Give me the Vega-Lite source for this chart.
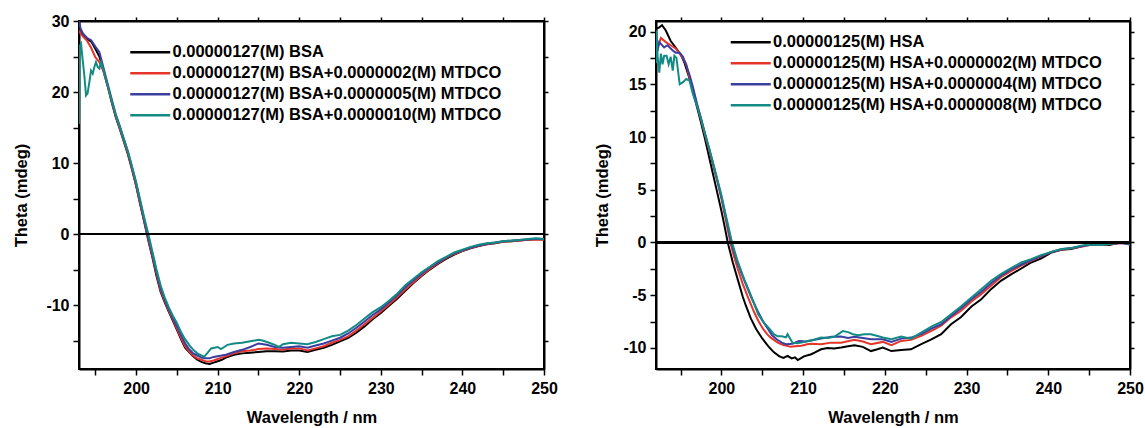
{
  "$schema": "https://vega.github.io/schema/vega-lite/v6.json",
  "padding": {"left": 12, "top": 12, "right": 5, "bottom": 5},
  "bounds": "flush",
  "spacing": 112,
  "resolve": {"scale": {"color": "independent"}, "legend": {"color": "independent"}},
  "config": {
    "font": "Liberation Sans",
    "view": {"stroke": "#000000", "strokeWidth": 2},
    "axis": {"domain": true, "domainColor": "#000000", "domainWidth": 2, "grid": false, "tickColor": "#000000", "tickWidth": 1.5, "tickSize": 6,
      "labelFont": "Liberation Sans", "labelFontSize": 16, "labelFontWeight": "bold", "labelColor": "#000000",
      "labelFlush": false, "labelOverlap": false,
      "titleFont": "Liberation Sans", "titleFontSize": 16.5, "titleFontWeight": "bold", "titleColor": "#000000"},
    "legend": {"orient": "none", "title": null, "symbolType": "M-4,0H4", "symbolSize": 100, "symbolStrokeWidth": 2.5,
      "labelFont": "Liberation Sans", "labelFontSize": 16.5, "labelFontWeight": "bold", "labelColor": "#000000",
      "labelLimit": 0, "rowPadding": 4, "labelOffset": 14, "padding": 0}
  },
  "datasets": {
    "bsa": [
      {"s":"a","x":193,"y":29.6},{"s":"a","x":193.2,"y":28.6},{"s":"a","x":193.5,"y":28.0},{"s":"a","x":194,"y":27.5},{"s":"a","x":194.5,"y":27.1},{"s":"a","x":195,"y":26.1},{"s":"a","x":195.5,"y":25.0},{"s":"a","x":196,"y":23.0},{"s":"a","x":196.5,"y":20.9},{"s":"a","x":197,"y":18.6},{"s":"a","x":197.5,"y":16.5},{"s":"a","x":198,"y":14.8},{"s":"a","x":198.5,"y":13.0},{"s":"a","x":199,"y":11.2},{"s":"a","x":199.5,"y":9.1},{"s":"a","x":200,"y":6.8},{"s":"a","x":200.5,"y":4.2},{"s":"a","x":201,"y":1.7},{"s":"a","x":201.5,"y":-0.9},{"s":"a","x":202,"y":-3.3},{"s":"a","x":202.5,"y":-5.9},{"s":"a","x":203,"y":-8.1},{"s":"a","x":203.5,"y":-9.6},{"s":"a","x":204,"y":-10.9},{"s":"a","x":204.5,"y":-12.2},{"s":"a","x":205,"y":-13.5},{"s":"a","x":205.5,"y":-14.8},{"s":"a","x":206,"y":-16.0},{"s":"a","x":206.5,"y":-16.6},{"s":"a","x":207,"y":-17.2},{"s":"a","x":207.5,"y":-17.7},{"s":"a","x":208,"y":-18.0},{"s":"a","x":208.5,"y":-18.2},{"s":"a","x":209,"y":-18.3},{"s":"a","x":209.5,"y":-18.1},{"s":"a","x":210,"y":-17.9},{"s":"a","x":210.5,"y":-17.7},{"s":"a","x":211,"y":-17.4},{"s":"a","x":212,"y":-17.0},{"s":"a","x":213,"y":-16.8},{"s":"a","x":214,"y":-16.7},{"s":"a","x":215,"y":-16.6},{"s":"a","x":216,"y":-16.5},{"s":"a","x":217,"y":-16.5},{"s":"a","x":218,"y":-16.55},{"s":"a","x":219,"y":-16.4},{"s":"a","x":220,"y":-16.4},{"s":"a","x":221,"y":-16.6},{"s":"a","x":222,"y":-16.3},{"s":"a","x":223,"y":-16.0},{"s":"a","x":224,"y":-15.6},{"s":"a","x":225,"y":-15.1},{"s":"a","x":226,"y":-14.6},{"s":"a","x":227,"y":-13.9},{"s":"a","x":228,"y":-13.0},{"s":"a","x":229,"y":-12.0},{"s":"a","x":230,"y":-11.1},{"s":"a","x":231,"y":-10.1},{"s":"a","x":232,"y":-9.1},{"s":"a","x":233,"y":-8.0},{"s":"a","x":234,"y":-6.9},{"s":"a","x":235,"y":-5.9},{"s":"a","x":236,"y":-5.0},{"s":"a","x":237,"y":-4.2},{"s":"a","x":238,"y":-3.5},{"s":"a","x":239,"y":-2.9},{"s":"a","x":240,"y":-2.4},{"s":"a","x":241,"y":-2.0},{"s":"a","x":242,"y":-1.7},{"s":"a","x":243,"y":-1.45},{"s":"a","x":244,"y":-1.3},{"s":"a","x":245,"y":-1.1},{"s":"a","x":246,"y":-1.0},{"s":"a","x":247,"y":-0.9},{"s":"a","x":248,"y":-0.8},{"s":"a","x":249,"y":-0.7},{"s":"a","x":250,"y":-0.75},
      {"s":"b","x":193,"y":28.7},{"s":"b","x":193.2,"y":28.2},{"s":"b","x":193.5,"y":27.8},{"s":"b","x":194,"y":27.2},{"s":"b","x":194.5,"y":26.2},{"s":"b","x":195,"y":24.9},{"s":"b","x":195.5,"y":24.2},{"s":"b","x":196,"y":22.9},{"s":"b","x":196.5,"y":20.9},{"s":"b","x":197,"y":18.7},{"s":"b","x":197.5,"y":16.6},{"s":"b","x":198,"y":14.9},{"s":"b","x":198.5,"y":13.1},{"s":"b","x":199,"y":11.3},{"s":"b","x":199.5,"y":9.2},{"s":"b","x":200,"y":6.9},{"s":"b","x":200.5,"y":4.3},{"s":"b","x":201,"y":1.8},{"s":"b","x":201.5,"y":-0.8},{"s":"b","x":202,"y":-3.1},{"s":"b","x":202.5,"y":-5.6},{"s":"b","x":203,"y":-7.9},{"s":"b","x":203.5,"y":-9.4},{"s":"b","x":204,"y":-10.8},{"s":"b","x":204.5,"y":-12.0},{"s":"b","x":205,"y":-13.3},{"s":"b","x":205.5,"y":-14.6},{"s":"b","x":206,"y":-15.8},{"s":"b","x":206.5,"y":-16.5},{"s":"b","x":207,"y":-17.1},{"s":"b","x":207.5,"y":-17.5},{"s":"b","x":208,"y":-17.7},{"s":"b","x":208.5,"y":-17.9},{"s":"b","x":209,"y":-17.95},{"s":"b","x":209.5,"y":-17.8},{"s":"b","x":210,"y":-17.6},{"s":"b","x":210.5,"y":-17.4},{"s":"b","x":211,"y":-17.2},{"s":"b","x":212,"y":-16.8},{"s":"b","x":213,"y":-16.5},{"s":"b","x":214,"y":-16.4},{"s":"b","x":215,"y":-16.2},{"s":"b","x":216,"y":-16.1},{"s":"b","x":217,"y":-16.2},{"s":"b","x":218,"y":-16.3},{"s":"b","x":219,"y":-16.1},{"s":"b","x":220,"y":-16.1},{"s":"b","x":221,"y":-16.4},{"s":"b","x":222,"y":-16.1},{"s":"b","x":223,"y":-15.8},{"s":"b","x":224,"y":-15.3},{"s":"b","x":225,"y":-14.9},{"s":"b","x":226,"y":-14.4},{"s":"b","x":227,"y":-13.6},{"s":"b","x":228,"y":-12.7},{"s":"b","x":229,"y":-11.8},{"s":"b","x":230,"y":-10.9},{"s":"b","x":231,"y":-9.9},{"s":"b","x":232,"y":-8.9},{"s":"b","x":233,"y":-7.8},{"s":"b","x":234,"y":-6.8},{"s":"b","x":235,"y":-5.8},{"s":"b","x":236,"y":-4.9},{"s":"b","x":237,"y":-4.1},{"s":"b","x":238,"y":-3.4},{"s":"b","x":239,"y":-2.8},{"s":"b","x":240,"y":-2.35},{"s":"b","x":241,"y":-1.95},{"s":"b","x":242,"y":-1.65},{"s":"b","x":243,"y":-1.4},{"s":"b","x":244,"y":-1.25},{"s":"b","x":245,"y":-1.05},{"s":"b","x":246,"y":-1.0},{"s":"b","x":247,"y":-0.9},{"s":"b","x":248,"y":-0.8},{"s":"b","x":249,"y":-0.75},{"s":"b","x":250,"y":-0.8},
      {"s":"c","x":193,"y":30.0},{"s":"c","x":193.2,"y":28.9},{"s":"c","x":193.5,"y":28.2},{"s":"c","x":194,"y":27.6},{"s":"c","x":194.5,"y":27.3},{"s":"c","x":195,"y":26.4},{"s":"c","x":195.5,"y":25.6},{"s":"c","x":196,"y":23.4},{"s":"c","x":196.5,"y":21.2},{"s":"c","x":197,"y":19.0},{"s":"c","x":197.5,"y":16.9},{"s":"c","x":198,"y":15.2},{"s":"c","x":198.5,"y":13.4},{"s":"c","x":199,"y":11.6},{"s":"c","x":199.5,"y":9.4},{"s":"c","x":200,"y":7.2},{"s":"c","x":200.5,"y":4.6},{"s":"c","x":201,"y":2.0},{"s":"c","x":201.5,"y":-0.5},{"s":"c","x":202,"y":-2.8},{"s":"c","x":202.5,"y":-5.3},{"s":"c","x":203,"y":-7.6},{"s":"c","x":203.5,"y":-9.2},{"s":"c","x":204,"y":-10.6},{"s":"c","x":204.5,"y":-11.8},{"s":"c","x":205,"y":-13.0},{"s":"c","x":205.5,"y":-14.2},{"s":"c","x":206,"y":-15.4},{"s":"c","x":206.5,"y":-16.2},{"s":"c","x":207,"y":-16.8},{"s":"c","x":207.5,"y":-17.1},{"s":"c","x":208,"y":-17.4},{"s":"c","x":208.5,"y":-17.5},{"s":"c","x":209,"y":-17.5},{"s":"c","x":209.5,"y":-17.3},{"s":"c","x":210,"y":-17.2},{"s":"c","x":210.5,"y":-17.1},{"s":"c","x":211,"y":-17.0},{"s":"c","x":212,"y":-16.6},{"s":"c","x":213,"y":-16.3},{"s":"c","x":214,"y":-15.9},{"s":"c","x":215,"y":-15.4},{"s":"c","x":216,"y":-15.6},{"s":"c","x":217,"y":-15.9},{"s":"c","x":218,"y":-16.0},{"s":"c","x":219,"y":-15.9},{"s":"c","x":220,"y":-15.8},{"s":"c","x":221,"y":-16.0},{"s":"c","x":222,"y":-15.7},{"s":"c","x":223,"y":-15.4},{"s":"c","x":224,"y":-15.0},{"s":"c","x":225,"y":-14.6},{"s":"c","x":226,"y":-14.0},{"s":"c","x":227,"y":-13.2},{"s":"c","x":228,"y":-12.3},{"s":"c","x":229,"y":-11.4},{"s":"c","x":230,"y":-10.6},{"s":"c","x":231,"y":-9.6},{"s":"c","x":232,"y":-8.6},{"s":"c","x":233,"y":-7.5},{"s":"c","x":234,"y":-6.5},{"s":"c","x":235,"y":-5.6},{"s":"c","x":236,"y":-4.7},{"s":"c","x":237,"y":-4.0},{"s":"c","x":238,"y":-3.3},{"s":"c","x":239,"y":-2.7},{"s":"c","x":240,"y":-2.3},{"s":"c","x":241,"y":-1.9},{"s":"c","x":242,"y":-1.6},{"s":"c","x":243,"y":-1.35},{"s":"c","x":244,"y":-1.2},{"s":"c","x":245,"y":-1.0},{"s":"c","x":246,"y":-0.95},{"s":"c","x":247,"y":-0.85},{"s":"c","x":248,"y":-0.75},{"s":"c","x":249,"y":-0.65},{"s":"c","x":250,"y":-0.7},
      {"s":"d","x":193,"y":15.5},{"s":"d","x":193.1,"y":26.5},{"s":"d","x":193.25,"y":26.8},{"s":"d","x":193.45,"y":24.5},{"s":"d","x":193.65,"y":22.4},{"s":"d","x":193.86,"y":19.5},{"s":"d","x":194.05,"y":19.8},{"s":"d","x":194.27,"y":21.4},{"s":"d","x":194.47,"y":23.0},{"s":"d","x":194.68,"y":22.6},{"s":"d","x":194.9,"y":23.6},{"s":"d","x":195.08,"y":24.2},{"s":"d","x":195.3,"y":23.5},{"s":"d","x":195.5,"y":23.3},{"s":"d","x":195.7,"y":24.2},{"s":"d","x":196,"y":23.1},{"s":"d","x":196.5,"y":21.0},{"s":"d","x":197,"y":18.8},{"s":"d","x":197.5,"y":16.8},{"s":"d","x":198,"y":15.1},{"s":"d","x":198.5,"y":13.3},{"s":"d","x":199,"y":11.6},{"s":"d","x":199.5,"y":9.5},{"s":"d","x":200,"y":7.3},{"s":"d","x":200.5,"y":4.8},{"s":"d","x":201,"y":2.3},{"s":"d","x":201.5,"y":0.0},{"s":"d","x":202,"y":-2.5},{"s":"d","x":202.5,"y":-5.0},{"s":"d","x":203,"y":-7.2},{"s":"d","x":203.5,"y":-8.9},{"s":"d","x":204,"y":-10.3},{"s":"d","x":204.5,"y":-11.5},{"s":"d","x":205,"y":-12.5},{"s":"d","x":205.5,"y":-13.8},{"s":"d","x":206,"y":-14.8},{"s":"d","x":206.5,"y":-15.6},{"s":"d","x":207,"y":-16.3},{"s":"d","x":207.5,"y":-16.8},{"s":"d","x":208,"y":-17.1},{"s":"d","x":208.35,"y":-17.25},{"s":"d","x":208.7,"y":-16.8},{"s":"d","x":209.2,"y":-16.1},{"s":"d","x":209.6,"y":-16.0},{"s":"d","x":210,"y":-15.9},{"s":"d","x":210.4,"y":-16.2},{"s":"d","x":210.8,"y":-15.9},{"s":"d","x":211.2,"y":-15.6},{"s":"d","x":212,"y":-15.4},{"s":"d","x":213,"y":-15.3},{"s":"d","x":214,"y":-15.1},{"s":"d","x":215,"y":-14.9},{"s":"d","x":215.5,"y":-15.0},{"s":"d","x":216.3,"y":-15.3},{"s":"d","x":217,"y":-15.6},{"s":"d","x":217.5,"y":-15.9},{"s":"d","x":218,"y":-15.5},{"s":"d","x":219,"y":-15.3},{"s":"d","x":220,"y":-15.4},{"s":"d","x":221,"y":-15.5},{"s":"d","x":222,"y":-15.2},{"s":"d","x":223,"y":-14.8},{"s":"d","x":224,"y":-14.4},{"s":"d","x":225,"y":-14.2},{"s":"d","x":226,"y":-13.6},{"s":"d","x":227,"y":-12.8},{"s":"d","x":228,"y":-11.9},{"s":"d","x":229,"y":-11.0},{"s":"d","x":230,"y":-10.3},{"s":"d","x":231,"y":-9.4},{"s":"d","x":232,"y":-8.4},{"s":"d","x":233,"y":-7.2},{"s":"d","x":234,"y":-6.3},{"s":"d","x":235,"y":-5.4},{"s":"d","x":236,"y":-4.6},{"s":"d","x":237,"y":-3.8},{"s":"d","x":238,"y":-3.2},{"s":"d","x":239,"y":-2.6},{"s":"d","x":240,"y":-2.2},{"s":"d","x":241,"y":-1.8},{"s":"d","x":242,"y":-1.5},{"s":"d","x":243,"y":-1.3},{"s":"d","x":244,"y":-1.2},{"s":"d","x":245,"y":-1.0},{"s":"d","x":246,"y":-0.9},{"s":"d","x":247,"y":-0.85},{"s":"d","x":248,"y":-0.7},{"s":"d","x":249,"y":-0.6},{"s":"d","x":250,"y":-0.7}
    ],
    "hsa": [
      {"s":"a","x":192,"y":20.26},{"s":"a","x":192.4,"y":20.4},{"s":"a","x":192.74,"y":20.6},{"s":"a","x":193.2,"y":20.1},{"s":"a","x":193.8,"y":19.1},{"s":"a","x":194.2,"y":18.7},{"s":"a","x":194.66,"y":18.2},{"s":"a","x":195.1,"y":17.7},{"s":"a","x":195.5,"y":17.0},{"s":"a","x":196,"y":15.8},{"s":"a","x":196.5,"y":14.4},{"s":"a","x":197,"y":12.9},{"s":"a","x":197.5,"y":11.4},{"s":"a","x":198,"y":9.8},{"s":"a","x":198.5,"y":8.1},{"s":"a","x":199,"y":6.4},{"s":"a","x":199.5,"y":4.7},{"s":"a","x":200,"y":3.0},{"s":"a","x":200.4,"y":1.5},{"s":"a","x":200.78,"y":0},{"s":"a","x":201.4,"y":-1.9},{"s":"a","x":202,"y":-3.5},{"s":"a","x":202.6,"y":-5.1},{"s":"a","x":203,"y":-6.0},{"s":"a","x":203.6,"y":-7.2},{"s":"a","x":204.25,"y":-8.2},{"s":"a","x":205,"y":-9.1},{"s":"a","x":205.7,"y":-9.8},{"s":"a","x":206.4,"y":-10.4},{"s":"a","x":207.1,"y":-10.8},{"s":"a","x":207.6,"y":-10.95},{"s":"a","x":208.1,"y":-10.75},{"s":"a","x":208.6,"y":-11.0},{"s":"a","x":209,"y":-10.9},{"s":"a","x":209.35,"y":-11.15},{"s":"a","x":209.7,"y":-11.0},{"s":"a","x":210.1,"y":-10.8},{"s":"a","x":211,"y":-10.6},{"s":"a","x":211.4,"y":-10.45},{"s":"a","x":212.2,"y":-10.13},{"s":"a","x":213,"y":-10.0},{"s":"a","x":213.8,"y":-10.05},{"s":"a","x":214.65,"y":-9.97},{"s":"a","x":215.5,"y":-9.85},{"s":"a","x":216.3,"y":-9.75},{"s":"a","x":217.3,"y":-9.9},{"s":"a","x":218.3,"y":-10.3},{"s":"a","x":219,"y":-10.15},{"s":"a","x":219.75,"y":-9.97},{"s":"a","x":220.8,"y":-10.3},{"s":"a","x":221.4,"y":-10.25},{"s":"a","x":222,"y":-10.2},{"s":"a","x":223.2,"y":-10.13},{"s":"a","x":224.45,"y":-9.65},{"s":"a","x":225.7,"y":-9.2},{"s":"a","x":226.9,"y":-8.7},{"s":"a","x":228.1,"y":-7.76},{"s":"a","x":229.3,"y":-7.1},{"s":"a","x":230.6,"y":-6.08},{"s":"a","x":231.8,"y":-5.38},{"s":"a","x":233,"y":-4.43},{"s":"a","x":234.2,"y":-3.64},{"s":"a","x":235.5,"y":-3.0},{"s":"a","x":236.7,"y":-2.47},{"s":"a","x":237.9,"y":-1.9},{"s":"a","x":239.1,"y":-1.52},{"s":"a","x":240.4,"y":-0.95},{"s":"a","x":241.6,"y":-0.7},{"s":"a","x":242.8,"y":-0.63},{"s":"a","x":244,"y":-0.38},{"s":"a","x":245.1,"y":-0.16},{"s":"a","x":246.5,"y":-0.2},{"s":"a","x":247.5,"y":-0.25},{"s":"a","x":248.5,"y":-0.05},{"s":"a","x":249.2,"y":0.0},{"s":"a","x":250,"y":-0.15},
      {"s":"b","x":192,"y":18.3},{"s":"b","x":192.2,"y":18.5},{"s":"b","x":192.6,"y":19.4},{"s":"b","x":193.2,"y":19.0},{"s":"b","x":193.8,"y":18.7},{"s":"b","x":194.4,"y":18.4},{"s":"b","x":195.1,"y":17.7},{"s":"b","x":195.7,"y":16.9},{"s":"b","x":196,"y":15.9},{"s":"b","x":196.5,"y":14.6},{"s":"b","x":197,"y":13.1},{"s":"b","x":197.5,"y":11.7},{"s":"b","x":198,"y":10.2},{"s":"b","x":198.5,"y":8.8},{"s":"b","x":199,"y":7.3},{"s":"b","x":199.5,"y":5.8},{"s":"b","x":200,"y":4.2},{"s":"b","x":200.5,"y":2.3},{"s":"b","x":201.1,"y":0},{"s":"b","x":201.5,"y":-1.2},{"s":"b","x":202,"y":-2.5},{"s":"b","x":202.6,"y":-3.9},{"s":"b","x":203.2,"y":-5.1},{"s":"b","x":204,"y":-6.6},{"s":"b","x":204.5,"y":-7.4},{"s":"b","x":205.1,"y":-8.2},{"s":"b","x":205.6,"y":-8.7},{"s":"b","x":206,"y":-9.0},{"s":"b","x":206.9,"y":-9.5},{"s":"b","x":207.5,"y":-9.7},{"s":"b","x":208,"y":-9.8},{"s":"b","x":208.5,"y":-9.9},{"s":"b","x":209,"y":-9.85},{"s":"b","x":209.8,"y":-9.8},{"s":"b","x":210.5,"y":-9.65},{"s":"b","x":211,"y":-9.6},{"s":"b","x":212.2,"y":-9.65},{"s":"b","x":213.4,"y":-9.5},{"s":"b","x":214.65,"y":-9.5},{"s":"b","x":216.3,"y":-9.24},{"s":"b","x":217.3,"y":-9.4},{"s":"b","x":218.3,"y":-9.65},{"s":"b","x":219.75,"y":-9.43},{"s":"b","x":220.8,"y":-9.75},{"s":"b","x":222,"y":-9.34},{"s":"b","x":223.2,"y":-9.24},{"s":"b","x":224.45,"y":-8.86},{"s":"b","x":225.7,"y":-8.39},{"s":"b","x":226.9,"y":-7.9},{"s":"b","x":228.1,"y":-7.1},{"s":"b","x":229.3,"y":-6.5},{"s":"b","x":230.6,"y":-5.6},{"s":"b","x":231.8,"y":-4.9},{"s":"b","x":233,"y":-4.1},{"s":"b","x":234.2,"y":-3.3},{"s":"b","x":235.5,"y":-2.7},{"s":"b","x":236.7,"y":-2.2},{"s":"b","x":237.9,"y":-1.74},{"s":"b","x":239.1,"y":-1.33},{"s":"b","x":240.4,"y":-0.89},{"s":"b","x":241.6,"y":-0.7},{"s":"b","x":242.8,"y":-0.55},{"s":"b","x":244,"y":-0.4},{"s":"b","x":245.1,"y":-0.25},{"s":"b","x":246.5,"y":-0.2},{"s":"b","x":248,"y":-0.15},{"s":"b","x":249,"y":-0.05},{"s":"b","x":250,"y":-0.2},
      {"s":"c","x":192,"y":17.8},{"s":"c","x":192.2,"y":18.2},{"s":"c","x":192.4,"y":19.0},{"s":"c","x":193,"y":18.5},{"s":"c","x":193.4,"y":18.7},{"s":"c","x":194.05,"y":18.2},{"s":"c","x":194.4,"y":18.0},{"s":"c","x":194.9,"y":18.0},{"s":"c","x":195.3,"y":17.6},{"s":"c","x":195.7,"y":16.8},{"s":"c","x":196.1,"y":15.9},{"s":"c","x":196.5,"y":14.8},{"s":"c","x":197,"y":13.2},{"s":"c","x":197.5,"y":11.8},{"s":"c","x":198,"y":10.3},{"s":"c","x":198.5,"y":8.9},{"s":"c","x":199,"y":7.4},{"s":"c","x":199.5,"y":5.9},{"s":"c","x":200,"y":4.3},{"s":"c","x":200.6,"y":2.2},{"s":"c","x":201.2,"y":0},{"s":"c","x":202,"y":-2.0},{"s":"c","x":202.8,"y":-3.6},{"s":"c","x":203.6,"y":-5.1},{"s":"c","x":204.5,"y":-6.6},{"s":"c","x":205.1,"y":-7.5},{"s":"c","x":205.7,"y":-8.2},{"s":"c","x":206.2,"y":-8.8},{"s":"c","x":206.8,"y":-9.2},{"s":"c","x":207.4,"y":-9.5},{"s":"c","x":207.9,"y":-9.65},{"s":"c","x":208.7,"y":-9.6},{"s":"c","x":209.5,"y":-9.35},{"s":"c","x":210.3,"y":-9.4},{"s":"c","x":211,"y":-9.3},{"s":"c","x":212.2,"y":-9.1},{"s":"c","x":213.5,"y":-8.95},{"s":"c","x":214.65,"y":-8.93},{"s":"c","x":215.5,"y":-9.05},{"s":"c","x":216.3,"y":-8.95},{"s":"c","x":217.3,"y":-9.05},{"s":"c","x":218.3,"y":-9.18},{"s":"c","x":219.75,"y":-9.18},{"s":"c","x":220.8,"y":-9.43},{"s":"c","x":222,"y":-9.12},{"s":"c","x":223.2,"y":-9.02},{"s":"c","x":224.45,"y":-8.7},{"s":"c","x":225.7,"y":-8.17},{"s":"c","x":226.9,"y":-7.76},{"s":"c","x":228.1,"y":-6.97},{"s":"c","x":229.3,"y":-6.27},{"s":"c","x":230.6,"y":-5.38},{"s":"c","x":231.8,"y":-4.68},{"s":"c","x":233,"y":-3.86},{"s":"c","x":234.2,"y":-3.15},{"s":"c","x":235.5,"y":-2.53},{"s":"c","x":236.7,"y":-2.09},{"s":"c","x":238,"y":-1.65},{"s":"c","x":239.1,"y":-1.3},{"s":"c","x":240.4,"y":-0.9},{"s":"c","x":241.6,"y":-0.65},{"s":"c","x":243,"y":-0.5},{"s":"c","x":244,"y":-0.35},{"s":"c","x":245,"y":-0.25},{"s":"c","x":246.5,"y":-0.2},{"s":"c","x":248,"y":-0.1},{"s":"c","x":249,"y":-0.05},{"s":"c","x":250,"y":-0.2},
      {"s":"d","x":192,"y":17.0},{"s":"d","x":192.05,"y":20.1},{"s":"d","x":192.2,"y":17.6},{"s":"d","x":192.4,"y":16.1},{"s":"d","x":192.6,"y":17.9},{"s":"d","x":192.8,"y":16.9},{"s":"d","x":193.0,"y":17.7},{"s":"d","x":193.3,"y":17.7},{"s":"d","x":193.55,"y":16.9},{"s":"d","x":193.8,"y":17.6},{"s":"d","x":194.05,"y":16.3},{"s":"d","x":194.25,"y":17.7},{"s":"d","x":194.5,"y":17.5},{"s":"d","x":194.9,"y":15.0},{"s":"d","x":195.3,"y":15.2},{"s":"d","x":195.7,"y":15.5},{"s":"d","x":196.1,"y":15.35},{"s":"d","x":196.5,"y":14.1},{"s":"d","x":197,"y":13.0},{"s":"d","x":197.5,"y":11.7},{"s":"d","x":198,"y":10.3},{"s":"d","x":198.5,"y":8.9},{"s":"d","x":199,"y":7.5},{"s":"d","x":199.5,"y":6.0},{"s":"d","x":200,"y":4.5},{"s":"d","x":200.6,"y":2.4},{"s":"d","x":201.3,"y":0},{"s":"d","x":202,"y":-1.8},{"s":"d","x":202.8,"y":-3.5},{"s":"d","x":203.6,"y":-5.0},{"s":"d","x":204.5,"y":-6.8},{"s":"d","x":205.2,"y":-7.6},{"s":"d","x":205.9,"y":-8.2},{"s":"d","x":206.4,"y":-8.7},{"s":"d","x":206.9,"y":-8.9},{"s":"d","x":207.4,"y":-8.9},{"s":"d","x":207.9,"y":-9.0},{"s":"d","x":208.1,"y":-8.7},{"s":"d","x":208.4,"y":-9.1},{"s":"d","x":208.7,"y":-9.5},{"s":"d","x":209.3,"y":-9.55},{"s":"d","x":209.8,"y":-9.5},{"s":"d","x":210.6,"y":-9.35},{"s":"d","x":211.4,"y":-9.2},{"s":"d","x":212.2,"y":-9.02},{"s":"d","x":213,"y":-9.05},{"s":"d","x":213.8,"y":-8.95},{"s":"d","x":214.5,"y":-8.6},{"s":"d","x":214.85,"y":-8.4},{"s":"d","x":215.5,"y":-8.5},{"s":"d","x":216.1,"y":-8.7},{"s":"d","x":216.7,"y":-8.8},{"s":"d","x":217.5,"y":-8.7},{"s":"d","x":218.3,"y":-8.7},{"s":"d","x":219,"y":-8.85},{"s":"d","x":219.75,"y":-9.02},{"s":"d","x":220.8,"y":-9.18},{"s":"d","x":222,"y":-8.93},{"s":"d","x":223.2,"y":-9.12},{"s":"d","x":224.45,"y":-8.55},{"s":"d","x":225.7,"y":-7.98},{"s":"d","x":226.9,"y":-7.54},{"s":"d","x":228.1,"y":-6.8},{"s":"d","x":229.3,"y":-6.08},{"s":"d","x":230.6,"y":-5.23},{"s":"d","x":231.8,"y":-4.43},{"s":"d","x":233,"y":-3.64},{"s":"d","x":234.2,"y":-3.0},{"s":"d","x":235.5,"y":-2.4},{"s":"d","x":236.7,"y":-1.9},{"s":"d","x":237.9,"y":-1.58},{"s":"d","x":239.1,"y":-1.2},{"s":"d","x":240.4,"y":-0.89},{"s":"d","x":241.6,"y":-0.63},{"s":"d","x":242.8,"y":-0.55},{"s":"d","x":244,"y":-0.3},{"s":"d","x":245.1,"y":-0.2},{"s":"d","x":246.5,"y":-0.25},{"s":"d","x":248,"y":-0.1},{"s":"d","x":249,"y":0.05},{"s":"d","x":250,"y":-0.15}
    ]
  },
  "hconcat": [
    {
      "width": 465,
      "height": 348,
      "data": {"name": "bsa"},
      "resolve": {"axis": {"x": "independent", "y": "independent"}},
      "layer": [
        {
          "mark": {"type": "line", "strokeWidth": 2, "clip": true},
          "encoding": {
            "x": {"field": "x", "type": "quantitative", "title": "Wavelength / nm",
              "scale": {"domain": [193, 250], "nice": false, "zero": false},
              "axis": {"orient": "bottom", "values": [195,200,205,210,215,220,225,230,235,240,245,250],
                "labelExpr": "datum.value % 10 === 0 ? '' + datum.value : ''", "labelOverlap": false,
                "labelPadding": 5, "titleY": 48, "titleBaseline": "middle"}},
            "y": {"field": "y", "type": "quantitative", "title": "Theta (mdeg)",
              "scale": {"domain": [-19, 30], "nice": false, "zero": false},
              "axis": {"orient": "left", "values": [-15,-10,-5,0,5,10,15,20,25,30],
                "labelExpr": "datum.value % 10 === 0 ? '' + datum.value : ''", "labelOverlap": false,
                "labelPadding": 4, "titleX": -58, "titleBaseline": "middle"}},
            "color": {"field": "s", "type": "nominal",
              "scale": {"domain": ["a","b","c","d"], "range": ["#000000","#e5352b","#3a3f9f","#138a84"]},
              "legend": {"legendX": 63, "legendY": 23,
                "labelExpr": "datum.label === 'a' ? '0.00000127(M) BSA' : datum.label === 'b' ? '0.00000127(M) BSA+0.0000002(M) MTDCO' : datum.label === 'c' ? '0.00000127(M) BSA+0.0000005(M) MTDCO' : '0.00000127(M) BSA+0.0000010(M) MTDCO'"}}
          }
        },
        {
          "mark": {"type": "rule", "strokeWidth": 2, "color": "#000000"},
          "encoding": {"y": {"datum": 0, "type": "quantitative", "axis": null}}
        },
        {
          "mark": {"type": "line", "opacity": 0},
          "encoding": {
            "x": {"field": "x", "type": "quantitative",
              "axis": {"orient": "top", "values": [195,200,205,210,215,220,225,230,235,240,245,250], "labels": false, "tickSize": 4, "title": null}},
            "y": {"field": "y", "type": "quantitative",
              "axis": {"orient": "right", "values": [-15,-10,-5,0,5,10,15,20,25,30], "labels": false, "tickSize": 4, "title": null}},
            "detail": {"field": "s"}
          }
        }
      ]
    },
    {
      "width": 474,
      "height": 348,
      "data": {"name": "hsa"},
      "resolve": {"axis": {"x": "independent", "y": "independent"}},
      "layer": [
        {
          "mark": {"type": "line", "strokeWidth": 2, "clip": true},
          "encoding": {
            "x": {"field": "x", "type": "quantitative", "title": "Wavelength / nm",
              "scale": {"domain": [192, 250], "nice": false, "zero": false},
              "axis": {"orient": "bottom", "values": [195,200,205,210,215,220,225,230,235,240,245,250],
                "labelExpr": "datum.value % 10 === 0 ? '' + datum.value : ''", "labelOverlap": false,
                "labelPadding": 5, "titleY": 48, "titleBaseline": "middle"}},
            "y": {"field": "y", "type": "quantitative", "title": "Theta (mdeg)",
              "scale": {"domain": [-12, 21], "nice": false, "zero": false},
              "axis": {"orient": "left", "values": [-10,-7.5,-5,-2.5,0,2.5,5,7.5,10,12.5,15,17.5,20],
                "labelExpr": "datum.value % 5 === 0 ? '' + datum.value : ''", "labelOverlap": false,
                "labelPadding": 4, "titleX": -54, "titleBaseline": "middle"}},
            "color": {"field": "s", "type": "nominal",
              "scale": {"domain": ["a","b","c","d"], "range": ["#000000","#e5352b","#3a3f9f","#138a84"]},
              "legend": {"legendX": 86.5, "legendY": 13,
                "labelExpr": "datum.label === 'a' ? '0.00000125(M) HSA' : datum.label === 'b' ? '0.00000125(M) HSA+0.0000002(M) MTDCO' : datum.label === 'c' ? '0.00000125(M) HSA+0.0000004(M) MTDCO' : '0.00000125(M) HSA+0.0000008(M) MTDCO'"}}
          }
        },
        {
          "mark": {"type": "rule", "strokeWidth": 2, "color": "#000000"},
          "encoding": {"y": {"datum": 0, "type": "quantitative", "axis": null}}
        },
        {
          "mark": {"type": "line", "opacity": 0},
          "encoding": {
            "x": {"field": "x", "type": "quantitative",
              "axis": {"orient": "top", "values": [195,200,205,210,215,220,225,230,235,240,245,250], "labels": false, "tickSize": 4, "title": null}},
            "y": {"field": "y", "type": "quantitative",
              "axis": {"orient": "right", "values": [-10,-7.5,-5,-2.5,0,2.5,5,7.5,10,12.5,15,17.5,20], "labels": false, "tickSize": 4, "title": null}},
            "detail": {"field": "s"}
          }
        }
      ]
    }
  ]
}
